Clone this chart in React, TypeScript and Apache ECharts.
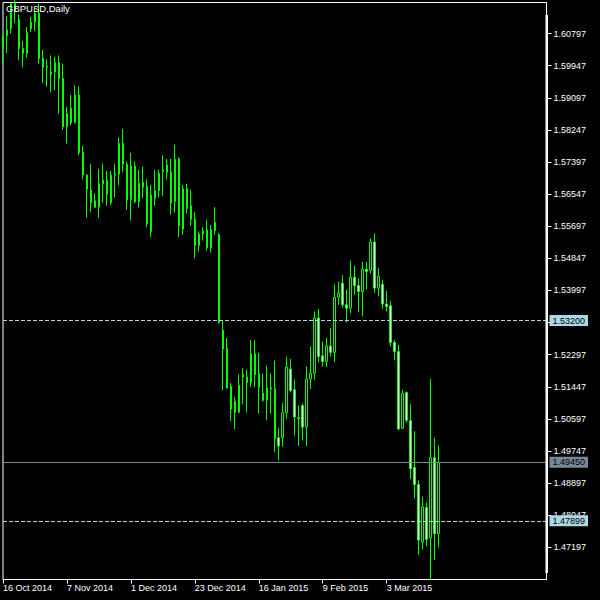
import { useEffect, useRef } from "react";
import * as echarts from "echarts";

// GBPUSD daily bars, 16 Oct 2014 .. 20 Mar 2015
const opens = [
  1.6040, 1.6074, 1.6093, 1.6159, 1.6117, 1.6040, 1.6027, 1.6093, 1.6110, 1.6133,
  1.6014, 1.5993, 1.5978, 1.5978, 1.6003, 1.5961, 1.5833, 1.5882, 1.5844, 1.5917,
  1.5765, 1.5705, 1.5666, 1.5637, 1.5620, 1.5682, 1.5692, 1.5632, 1.5705, 1.5708,
  1.5789, 1.5734, 1.5641, 1.5729, 1.5635, 1.5686, 1.5675, 1.5556, 1.5644, 1.5664,
  1.5714, 1.5732, 1.5714, 1.5635, 1.5747, 1.5562, 1.5669, 1.5624, 1.5588, 1.5519,
  1.5557, 1.5560, 1.5512, 1.5558, 1.5547, 1.5294, 1.5247, 1.5146, 1.5106, 1.5077,
  1.5171, 1.5171, 1.5156, 1.5232, 1.5180, 1.5128, 1.5109, 1.5142, 1.5139, 1.5010,
  1.5010, 1.5076, 1.5192, 1.5137, 1.5063, 1.5095, 1.5038, 1.5165, 1.5181, 1.5327,
  1.5227, 1.5212, 1.5253, 1.5236, 1.5382, 1.5419, 1.5362, 1.5353, 1.5435, 1.5413,
  1.5397, 1.5456, 1.5453, 1.5528, 1.5406, 1.5416, 1.5364, 1.5359, 1.5262, 1.5238,
  1.5035, 1.5130, 1.5055, 1.4931, 1.4886, 1.4734, 1.4825, 1.4745, 1.4957, 1.4756,
];
const closes = [
  1.6074, 1.6090, 1.6159, 1.6141, 1.6040, 1.6027, 1.6082, 1.6110, 1.6133, 1.6014,
  1.5991, 1.5991, 1.5972, 1.6003, 1.5961, 1.5833, 1.5868, 1.5844, 1.5917, 1.5765,
  1.5705, 1.5668, 1.5632, 1.5620, 1.5682, 1.5692, 1.5654, 1.5705, 1.5708, 1.5789,
  1.5734, 1.5639, 1.5729, 1.5635, 1.5683, 1.5673, 1.5576, 1.5653, 1.5664, 1.5710,
  1.5719, 1.5713, 1.5631, 1.5747, 1.5571, 1.5669, 1.5617, 1.5588, 1.5519, 1.5549,
  1.5549, 1.5513, 1.5560, 1.5580, 1.5315, 1.5245, 1.5142, 1.5086, 1.5077, 1.5149,
  1.5177, 1.5156, 1.5232, 1.5177, 1.5144, 1.5109, 1.5142, 1.5139, 1.5007, 1.4988,
  1.5076, 1.5197, 1.5135, 1.5065, 1.5061, 1.5038, 1.5165, 1.5181, 1.5327, 1.5225,
  1.5212, 1.5253, 1.5236, 1.5382, 1.5393, 1.5362, 1.5353, 1.5435, 1.5413, 1.5397,
  1.5456, 1.5450, 1.5528, 1.5406, 1.5437, 1.5364, 1.5357, 1.5262, 1.5238, 1.5033,
  1.5128, 1.5056, 1.4928, 1.4886, 1.4739, 1.4827, 1.4741, 1.4957, 1.4756, 1.4945,
];
const lows = [
  1.6001, 1.6028, 1.6080, 1.6108, 1.6009, 1.5991, 1.6016, 1.6084, 1.6087, 1.6000,
  1.5949, 1.5939, 1.5925, 1.5930, 1.5868, 1.5824, 1.5789, 1.5837, 1.5842, 1.5758,
  1.5694, 1.5592, 1.5608, 1.5618, 1.5592, 1.5632, 1.5624, 1.5626, 1.5646, 1.5679,
  1.5714, 1.5613, 1.5585, 1.5631, 1.5619, 1.5644, 1.5567, 1.5541, 1.5624, 1.5646,
  1.5650, 1.5694, 1.5600, 1.5606, 1.5541, 1.5547, 1.5604, 1.5571, 1.5485, 1.5503,
  1.5532, 1.5505, 1.5500, 1.5547, 1.5312, 1.5135, 1.5140, 1.5054, 1.5032, 1.5075,
  1.5098, 1.5077, 1.5144, 1.5144, 1.5074, 1.5106, 1.5056, 1.5074, 1.4972, 1.4950,
  1.4986, 1.5060, 1.5130, 1.5016, 1.4988, 1.5003, 1.4988, 1.5139, 1.5164, 1.5210,
  1.5199, 1.5197, 1.5225, 1.5210, 1.5362, 1.5355, 1.5315, 1.5340, 1.5388, 1.5342,
  1.5331, 1.5402, 1.5444, 1.5394, 1.5384, 1.5351, 1.5344, 1.5252, 1.5215, 1.5030,
  1.5033, 1.5050, 1.4901, 1.4849, 1.4700, 1.4714, 1.4723, 1.4633, 1.4686, 1.4720,
];
const highs = [
  1.6075, 1.6125, 1.6162, 1.6168, 1.6131, 1.6060, 1.6097, 1.6124, 1.6146, 1.6159,
  1.6037, 1.6011, 1.6022, 1.6018, 1.6022, 1.6000, 1.5886, 1.5917, 1.5943, 1.5940,
  1.5782, 1.5708, 1.5734, 1.5657, 1.5721, 1.5736, 1.5716, 1.5716, 1.5734, 1.5805,
  1.5827, 1.5741, 1.5764, 1.5741, 1.5719, 1.5727, 1.5694, 1.5679, 1.5719, 1.5719,
  1.5758, 1.5748, 1.5748, 1.5785, 1.5752, 1.5679, 1.5682, 1.5666, 1.5607, 1.5556,
  1.5567, 1.5587, 1.5573, 1.5620, 1.5551, 1.5320, 1.5274, 1.5155, 1.5118, 1.5177,
  1.5195, 1.5190, 1.5269, 1.5269, 1.5234, 1.5180, 1.5201, 1.5180, 1.5214, 1.5036,
  1.5102, 1.5224, 1.5218, 1.5164, 1.5095, 1.5100, 1.5199, 1.5252, 1.5344, 1.5351,
  1.5265, 1.5274, 1.5300, 1.5415, 1.5423, 1.5441, 1.5402, 1.5478, 1.5465, 1.5432,
  1.5475, 1.5475, 1.5538, 1.5551, 1.5459, 1.5428, 1.5399, 1.5372, 1.5269, 1.5256,
  1.5137, 1.5132, 1.5098, 1.5027, 1.4897, 1.4854, 1.4838, 1.5166, 1.5010, 1.4989,
];

const tickLabels = [
  "16 Oct 2014", "7 Nov 2014", "1 Dec 2014", "23 Dec 2014",
  "16 Jan 2015", "9 Feb 2015", "3 Mar 2015",
];
const TICK_STEP = 16; // bars between date labels
const SLOTS = 137; // bar slots across the chart, incl. empty right shift

// horizontal price levels: two dashed lines and the bid line
const priceLevels = [1.532, 1.4945, 1.47899];
const levelDashed = [true, false, true];

// axis label hidden in the reference behind the 1.53200 tag
const hiddenAxisLabels = ["1.53147"];

const FONT = "'Liberation Sans', Arial, sans-serif";

export default function App() {
  const chartRef = useRef<HTMLDivElement>(null);

  useEffect(() => {
    if (!chartRef.current) return;
    const chart = echarts.init(chartRef.current, null, { renderer: "svg" });

    const categories = Array.from({ length: SLOTS }, (_, i) => String(i));
    const candles = opens.map((o, i) => [o, closes[i], lows[i], highs[i]]);
    const showTick = (index: number) =>
      index % TICK_STEP === 0 && index / TICK_STEP < tickLabels.length;

    const levelLines = priceLevels.map((v, i) => {
      const color = levelDashed[i] ? "#add8e6" : "#778899";
      return {
        yAxis: v,
        lineStyle: {
          color,
          width: 1,
          type: levelDashed[i] ? [4, 2] : "solid",
        },
        label: {
          show: true,
          position: "end",
          distance: 3,
          formatter: () => v.toFixed(5),
          color: "#000",
          backgroundColor: color,
          padding: [1, 3, 0, 3],
          fontSize: 9,
          lineHeight: 10,
          fontFamily: FONT,
        },
      };
    });

    const option = {
      animation: false,
      backgroundColor: "#000",
      textStyle: { fontFamily: FONT },
      title: {
        text: "GBPUSD,Daily",
        left: 6,
        top: 3,
        padding: 0,
        textStyle: {
          color: "#fff",
          fontSize: 9.5,
          fontWeight: "normal",
          fontFamily: FONT,
        },
      },
      grid: {
        left: 2.5,
        top: 2.5,
        right: 53.5,
        bottom: 20.5,
        show: true,
        borderColor: "#fff",
        borderWidth: 1,
      },
      xAxis: {
        type: "category",
        data: categories,
        boundaryGap: false,
        axisLine: { onZero: false, lineStyle: { color: "#fff", width: 1 } },
        axisTick: {
          show: true,
          interval: showTick,
          length: 4,
          lineStyle: { color: "#fff" },
        },
        axisLabel: {
          interval: showTick,
          formatter: (_v: string, i: number) => tickLabels[i / TICK_STEP] ?? "",
          color: "#fff",
          fontSize: 9,
          align: "left",
          margin: 4,
          fontFamily: FONT,
        },
        splitLine: { show: false },
      },
      yAxis: {
        type: "value",
        position: "right",
        min: 1.46347,
        max: 1.6162,
        interval: 0.0085,
        axisLine: { show: true, lineStyle: { color: "#fff" } },
        axisTick: { show: true, length: 5, lineStyle: { color: "#fff" } },
        axisLabel: {
          color: "#fff",
          fontSize: 9,
          margin: 7,
          showMinLabel: false,
          showMaxLabel: false,
          fontFamily: FONT,
          formatter: (v: number) => {
            const s = v.toFixed(5);
            return hiddenAxisLabels.includes(s) ? "" : s;
          },
        },
        splitLine: { show: false },
      },
      series: [
        {
          name: "GBPUSD",
          type: "candlestick",
          data: candles,
          barWidth: 2,
          clip: true,
          itemStyle: {
            color: "#000000", // bull body
            color0: "#ffffff", // bear body
            borderColor: "#00ff00",
            borderColor0: "#00ff00",
            borderWidth: 1,
          },
        },
        {
          name: "levels",
          type: "line",
          data: [],
          clip: false,
          silent: true,
          markLine: {
            silent: true,
            precision: 5,
            symbol: ["none", "none"],
            animation: false,
            data: levelLines,
          },
        },
      ],
      graphic: [
        {
          type: "rect",
          silent: true,
          z: 100,
          shape: { x: 545.5, y: 15, width: 2.5, height: 558 },
          style: { fill: "#fff" },
        },
      ],
    };

    chart.setOption(option as any);

    return () => {
      chart.dispose();
    };
  }, []);

  return (
    <div
      ref={chartRef}
      style={{
        position: "fixed",
        left: 0,
        top: 0,
        width: 600,
        height: 600,
        background: "#000",
      }}
    />
  );
}
